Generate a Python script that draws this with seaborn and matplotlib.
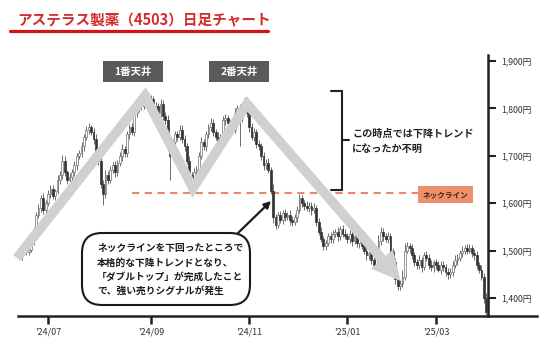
import numpy as np
import pandas as pd
import matplotlib
matplotlib.use("Agg")
import matplotlib.pyplot as plt
import matplotlib.transforms as mtransforms
from matplotlib.patches import Rectangle, FancyBboxPatch, Polygon, FancyArrowPatch
from matplotlib.lines import Line2D
import seaborn as sns

# ---------------- data ----------------
closes = [
    1495, 1490, 1500, 1505, 1498, 1502, 1520, 1540, 1575, 1590,
    1610, 1585, 1600, 1620, 1630, 1615, 1625, 1650, 1660, 1690,
    1665, 1650, 1655, 1665, 1680, 1700, 1705, 1720, 1740, 1755,
    1760, 1750, 1735, 1700, 1690, 1640, 1620, 1660, 1650, 1670,
    1680, 1665, 1685, 1700, 1715, 1705, 1745, 1760, 1750, 1790,
    1800, 1815, 1805, 1830, 1825, 1815, 1820, 1800, 1805, 1790,
    1810, 1785, 1775, 1720, 1700, 1730, 1745, 1740, 1755, 1735,
    1720, 1690, 1660, 1630, 1665, 1670, 1700, 1730, 1720, 1745,
    1760, 1770, 1750, 1740, 1715, 1740, 1775, 1780, 1770, 1760,
    1755, 1790, 1800, 1780, 1805, 1815, 1790, 1760, 1740, 1750,
    1725, 1720, 1700, 1680, 1685, 1670, 1625, 1570, 1555, 1575,
    1565, 1580, 1570, 1575, 1565, 1560, 1570, 1585, 1610, 1600,
    1595, 1590, 1595, 1585, 1590, 1560, 1540, 1525, 1510, 1515,
    1530, 1525, 1535, 1540, 1530, 1545, 1535, 1530, 1525, 1535,
    1520, 1530, 1515, 1525, 1510, 1500, 1490, 1495, 1480, 1470,
    1490, 1520, 1540, 1530, 1525, 1530, 1500, 1475, 1440, 1425,
    1430, 1445, 1500, 1510, 1505, 1490, 1475, 1470, 1480, 1465,
    1490, 1485, 1470, 1465, 1475, 1470, 1460, 1470, 1465, 1455,
    1450, 1455, 1470, 1480, 1485, 1495, 1500, 1505, 1500, 1505,
    1495, 1490, 1470, 1460, 1445, 1400, 1370,
]
first_open = 1500
upper_wicks = [
    6, 8, 5, 9, 7, 6, 8, 10, 7, 9,
    8, 12, 6, 7, 9, 8, 6, 10, 7, 12,
    10, 6, 8, 7, 9, 6, 8, 10, 7, 8,
    9, 6, 8, 12, 7, 10, 8, 9, 7, 8,
    6, 10, 7, 8, 9, 6, 8, 7, 10, 6,
    8, 9, 7, 10, 6, 8, 9, 7, 8, 6,
    10, 8, 7, 12, 9, 6, 8, 7, 10, 9,
    8, 7, 9, 6, 10, 8, 7, 9, 6, 8,
    7, 9, 8, 6, 10, 7, 8, 9, 7, 6,
    8, 10, 7, 9, 6, 8, 10, 7, 9, 8,
    6, 8, 7, 9, 8, 10, 6, 15, 8, 7,
    9, 6, 8, 7, 10, 8, 7, 9, 10, 8,
    6, 9, 7, 8, 10, 7, 8, 9, 6, 8,
    7, 10, 8, 6, 9, 7, 8, 10, 7, 9,
    8, 6, 9, 7, 8, 10, 6, 8, 9, 7,
    10, 12, 9, 8, 7, 9, 8, 6, 10, 8,
    9, 15, 15, 8, 7, 9, 6, 8, 10, 7,
    8, 9, 7, 10, 6, 8, 9, 7, 8, 6,
    9, 8, 7, 10, 8, 6, 9, 7, 8, 9,
    7, 8, 10, 6, 9, 8, 10,
]
lower_wicks = [
    7, 6, 9, 5, 8, 7, 6, 8, 9, 7,
    9, 7, 8, 6, 10, 7, 8, 6, 9, 8,
    7, 9, 6, 8, 7, 10, 6, 8, 9, 7,
    8, 6, 10, 7, 9, 8, 24, 9, 10, 8,
    7, 9, 8, 6, 10, 8, 7, 9, 6, 8,
    9, 7, 8, 6, 10, 7, 9, 8, 6, 7,
    8, 9, 7, 10, 50, 8, 7, 9, 6, 8,
    9, 7, 10, 13, 8, 6, 9, 7, 8, 10,
    7, 8, 9, 6, 10, 8, 7, 9, 8, 6,
    9, 7, 8, 60, 9, 7, 8, 10, 6, 9,
    8, 7, 9, 10, 8, 6, 5, 12, 9, 8,
    7, 9, 8, 6, 10, 8, 7, 9, 6, 8,
    9, 7, 8, 10, 6, 9, 8, 7, 9, 8,
    6, 8, 10, 7, 9, 8, 7, 6, 9, 8,
    10, 7, 8, 9, 6, 8, 10, 7, 9, 8,
    7, 9, 8, 10, 6, 8, 9, 7, 10, 8,
    9, 7, 8, 6, 10, 8, 7, 9, 8, 10,
    6, 8, 9, 7, 10, 8, 6, 9, 7, 8,
    9, 7, 8, 6, 10, 8, 9, 7, 8, 6,
    8, 10, 9, 7, 8, 10, 8,
]
start_date = "2024-06-12"
market_holidays = [
    "2024-07-15", "2024-08-12", "2024-09-16", "2024-09-23", "2024-10-14",
    "2024-11-04", "2024-12-31", "2025-01-01", "2025-01-02", "2025-01-03",
    "2025-01-13", "2025-02-11", "2025-02-24", "2025-03-20",
]
tick_months = ["2024-07", "2024-09", "2024-11", "2025-01", "2025-03"]
tick_labels = ["'24/07", "'24/09", "'24/11", "'25/01", "'25/03"]
y_ticks = [1400, 1500, 1600, 1700, 1800, 1900]
neckline = 1621

title = "アステラス製薬（4503）日足チャート"
peak_labels = ["1番天井", "2番天井"]
bracket_text = "この時点では下降トレンド\nになったか不明"
neck_label = "ネックライン"
callout_text = ("ネックラインを下回ったところで\n本格的な下降トレンドとなり、\n"
                "「ダブルトップ」が完成したこと\nで、強い売りシグナルが発生")

# ---------------- build table ----------------
n = len(closes)
assert len(upper_wicks) == n and len(lower_wicks) == n
dates = pd.bdate_range(start_date, "2025-06-30", freq="C", holidays=market_holidays)[:n]
opens = [first_open] + closes[:-1]
df = pd.DataFrame({"date": dates, "idx": np.arange(n), "open": opens, "close": closes})
df["top"] = df[["open", "close"]].max(axis=1)
df["bot"] = df[["open", "close"]].min(axis=1)
df["high"] = df["top"] + np.array(upper_wicks)
df["low"] = df["bot"] - np.array(lower_wicks)
df["up"] = df["close"] >= df["open"]

month_str = df["date"].dt.strftime("%Y-%m")
tick_pos = [int(df.loc[month_str == m, "idx"].iloc[0]) for m in tick_months]

# ---------------- style ----------------
sns.set_theme(style="white")
plt.rcParams["font.family"] = ["Noto Sans CJK JP", "DejaVu Sans"]

W, H = 550, 347
fig = plt.figure(figsize=(W / 100, H / 100), dpi=100)
fig.patch.set_facecolor("white")
ax = fig.add_axes([18 / W, 1 - 316 / H, 519 / W, 261 / H])
ax.set_facecolor("white")

# pixel transform (image coords, y down)
pxT = mtransforms.Affine2D().scale(1 / W, -1 / H).translate(0, 1) + fig.transFigure

ax.set_xlim(0.47, 217.2)
ax.set_ylim(1362, 1912.7)

# gray trend bands (annotation)
band = Line2D([17, 145, 193, 247, 382], [258, 96, 188, 104, 259], transform=pxT,
              lw=7.0, color="#d0d0d0", solid_joinstyle="miter", solid_capstyle="butt",
              zorder=1)
fig.add_artist(band)
head = Polygon([[371, 268.5], [393, 249.5], [400.5, 281]], closed=True, transform=pxT,
               facecolor="#d0d0d0", edgecolor="none", zorder=1)
fig.add_artist(head)

# candles
up = df[df["up"]]
dn = df[~df["up"]]
ax.vlines(df["idx"], df["low"], df["high"], color="#555555", lw=0.6, zorder=3)
ax.bar(up["idx"], (up["top"] - up["bot"]).clip(lower=1.5), bottom=up["bot"], width=0.75,
       facecolor="white", edgecolor="#707070", lw=0.5, zorder=4)
ax.bar(dn["idx"], (dn["top"] - dn["bot"]).clip(lower=1.5), bottom=dn["bot"], width=0.75,
       facecolor="#333333", edgecolor="#333333", lw=0.5, zorder=4)

# neckline
ax.hlines(neckline, 48.1, 167.5, colors="#e8896a", lw=1.5, linestyles=(0, (3.5, 2.6)),
          zorder=2)

# spines / axes
for s in ["left", "top"]:
    ax.spines[s].set_visible(False)
ax.spines["bottom"].set_linewidth(1.8)
ax.spines["bottom"].set_color("#222222")
ax.spines["right"].set_position(("data", 196.9))
ax.spines["right"].set_linewidth(1.8)
ax.spines["right"].set_color("#222222")
ax.yaxis.tick_right()
ax.set_yticks(y_ticks)
ax.set_yticklabels([f"{v:,}円" for v in y_ticks], fontsize=6.3, color="#333333")
ax.set_xticks(tick_pos)
ax.set_xticklabels(tick_labels, fontsize=6.5, color="#333333")
ax.tick_params(axis="y", which="both", right=True, left=False, direction="out",
               length=5.5, width=1.5, color="#222222", pad=4)
ax.tick_params(axis="x", which="both", bottom=True, direction="out",
               length=5.5, width=1.8, color="#222222", pad=2.5)
ax.grid(False)

# title
fig.text(17, 20, title, transform=pxT, fontsize=10.5, fontweight="bold",
         color="#d42a2a", va="center", ha="left")
fig.add_artist(Line2D([10, 268], [31.5, 31.5], transform=pxT, lw=2.3, color="#d0141c"))

# peak boxes
for (x0, x1), lab in zip([(103, 163), (209, 269)], peak_labels):
    fig.add_artist(Rectangle((x0, 61), x1 - x0, 21, transform=pxT,
                             facecolor="#5a5a5a", edgecolor="none", zorder=5))
    fig.text((x0 + x1) / 2, 71.5, lab, transform=pxT, fontsize=7.5, fontweight="bold",
             color="white", ha="center", va="center", zorder=6)

# bracket
fig.add_artist(Line2D([331, 342, 342, 331], [91, 91, 190, 190], transform=pxT,
                      lw=1.5, color="#222222", solid_joinstyle="miter"))
fig.add_artist(Line2D([342, 349], [140, 140], transform=pxT, lw=1.5, color="#222222"))
fig.text(352, 141.5, bracket_text, transform=pxT, fontsize=7.3, fontweight="bold",
         color="#222222", ha="left", va="center", linespacing=1.55)

# neckline label
fig.add_artist(Rectangle((418, 186), 55, 17, transform=pxT, facecolor="#ee8f6b",
                         edgecolor="none", zorder=5))
fig.text(445.5, 194.5, neck_label, transform=pxT, fontsize=5.5, fontweight="bold",
         color="#3a2418", ha="center", va="center", zorder=6)

# callout bubble and arrow
fig.add_artist(FancyBboxPatch((82, 233), 168, 72, transform=pxT,
                              boxstyle="round,pad=0,rounding_size=20",
                              facecolor="white", edgecolor="#1a1a1a", lw=1.5, zorder=5))
fig.text(97, 269.5, callout_text, transform=pxT, fontsize=7.0, fontweight="bold",
         color="#1a1a1a", ha="left", va="center", linespacing=1.55, zorder=6)
fig.add_artist(FancyArrowPatch((238, 233), (271, 201), transform=pxT,
                               arrowstyle="-|>", mutation_scale=10, lw=1.6,
                               color="#1a1a1a", shrinkA=0, shrinkB=0, zorder=6))

fig.savefig("out.png", dpi=100, facecolor="white")
